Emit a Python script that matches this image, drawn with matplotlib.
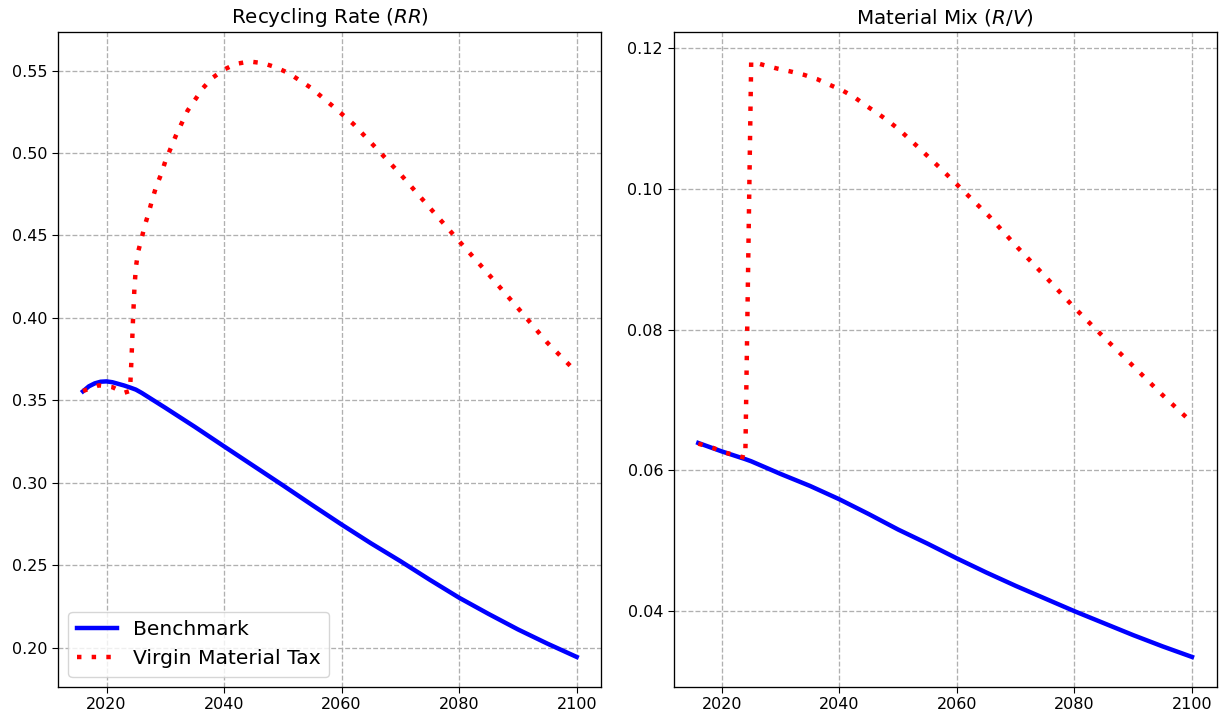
# -*- coding: utf-8 -*-
import numpy as np
import matplotlib
matplotlib.use('Agg')
import matplotlib.pyplot as plt

#%% Recycling rate RR
years_rr_bench = [2016, 2017, 2018, 2019, 2020, 2021, 2022, 2023, 2024, 2025,
                  2026, 2028, 2030, 2035, 2040, 2045, 2050, 2055, 2060, 2065,
                  2070, 2075, 2080, 2085, 2090, 2095, 2100]
rr_bench = [0.3555, 0.3585, 0.3603, 0.3613, 0.3615, 0.3610, 0.3600, 0.3590,
            0.3578, 0.3565, 0.3545, 0.3500, 0.3455, 0.3340, 0.3221, 0.3103,
            0.2985, 0.2865, 0.2747, 0.2633, 0.2525, 0.2412, 0.2303, 0.2205,
            0.2111, 0.2025, 0.1944]

years_rr_tax = [2016, 2018.7, 2021, 2023, 2024, 2024.25, 2024.5, 2024.75,
                2025, 2025.35, 2025.9, 2026.5, 2027.15, 2027.8, 2028.45,
                2029.3, 2030, 2031.8, 2033.8, 2036.45, 2038, 2040, 2042,
                2044.3, 2046.6, 2048.8, 2051, 2054.8, 2058.4, 2062, 2066,
                2070, 2075, 2080, 2085, 2090, 2095, 2100]
rr_tax = [0.3557, 0.3591, 0.3580, 0.3546, 0.3557, 0.3750, 0.3980, 0.4180,
          0.4306, 0.4397, 0.4472, 0.4559, 0.4634, 0.4720, 0.4796, 0.4872,
          0.4949, 0.5105, 0.5257, 0.5395, 0.5455, 0.5506, 0.5540, 0.5555,
          0.5545, 0.5520, 0.5484, 0.5395, 0.5287, 0.5176, 0.5025, 0.4872,
          0.4668, 0.4465, 0.4265, 0.4060, 0.3850, 0.3670]

#%% Material mix R/V
years_rv_bench = [2016, 2020, 2024, 2025, 2030, 2035, 2040, 2045, 2050, 2055,
                  2060, 2065, 2070, 2075, 2080, 2085, 2090, 2095, 2100]
rv_bench = [0.0639, 0.0627, 0.0616, 0.0613, 0.0595, 0.0578, 0.0559, 0.0538,
            0.0516, 0.0496, 0.0475, 0.0455, 0.0436, 0.0418, 0.0400, 0.0383,
            0.0366, 0.0350, 0.0335]

years_rv_tax = [2016, 2018.5, 2020.7, 2023, 2024, 2025, 2027.1, 2029.4,
                2031.6, 2034, 2036.2, 2038.3, 2040.5, 2042.6, 2044.4, 2046.4,
                2048.4, 2050.2, 2053.7, 2057.1, 2060.4, 2065.5, 2070.3,
                2075.1, 2079.9, 2084.9, 2089.9, 2095, 2100]
rv_tax = [0.0638, 0.0632, 0.0625, 0.0620, 0.0618, 0.1181, 0.1176, 0.1171,
          0.1167, 0.1162, 0.1156, 0.1148, 0.1140, 0.1130, 0.1119, 0.1108,
          0.1096, 0.1084, 0.1057, 0.1030, 0.1003, 0.0961, 0.0917, 0.0875,
          0.0832, 0.0790, 0.0749, 0.0707, 0.0668]

#%% Setting up figure
plt.rcParams['xtick.labelsize'] = 11.5
plt.rcParams['ytick.labelsize'] = 11.5
plt.rcParams['xtick.major.size'] = 4.1
plt.rcParams['ytick.major.size'] = 4.1
plt.rcParams['axes.linewidth'] = 0.95

fig, (ax1, ax2) = plt.subplots(1, 2, figsize=(12.25, 7.19), dpi=100)
fig.subplots_adjust(left=0.0476, right=0.9932, top=0.9559, bottom=0.0449,
                    wspace=0.133)

dotted = (0, (1, 2.3))
panels = [(ax1, years_rr_bench, rr_bench, years_rr_tax, rr_tax,
           r'Recycling Rate ($RR$)'),
          (ax2, years_rv_bench, rv_bench, years_rv_tax, rv_tax,
           r'Material Mix ($R/V$)')]

for ax, xb, yb, xt, yt, title in panels:
    ax.plot(xb, yb, color='blue', linewidth=3.2, label='Benchmark')
    ax.plot(xt, yt, color='red', linewidth=3.2, linestyle=dotted,
            label='Virgin Material Tax')
    ax.set_title(title, fontsize=14.3)
    ax.grid(True, linestyle='--', color='#b0b0b0', linewidth=0.95)
    ax.set_xticks([2020, 2040, 2060, 2080, 2100])

ax1.yaxis.set_major_formatter(matplotlib.ticker.FormatStrFormatter('%.2f'))
ax2.yaxis.set_major_formatter(matplotlib.ticker.FormatStrFormatter('%.2f'))

ax1.legend(loc='lower left', fontsize=14.6)

fig.savefig('out.png', dpi=100)
